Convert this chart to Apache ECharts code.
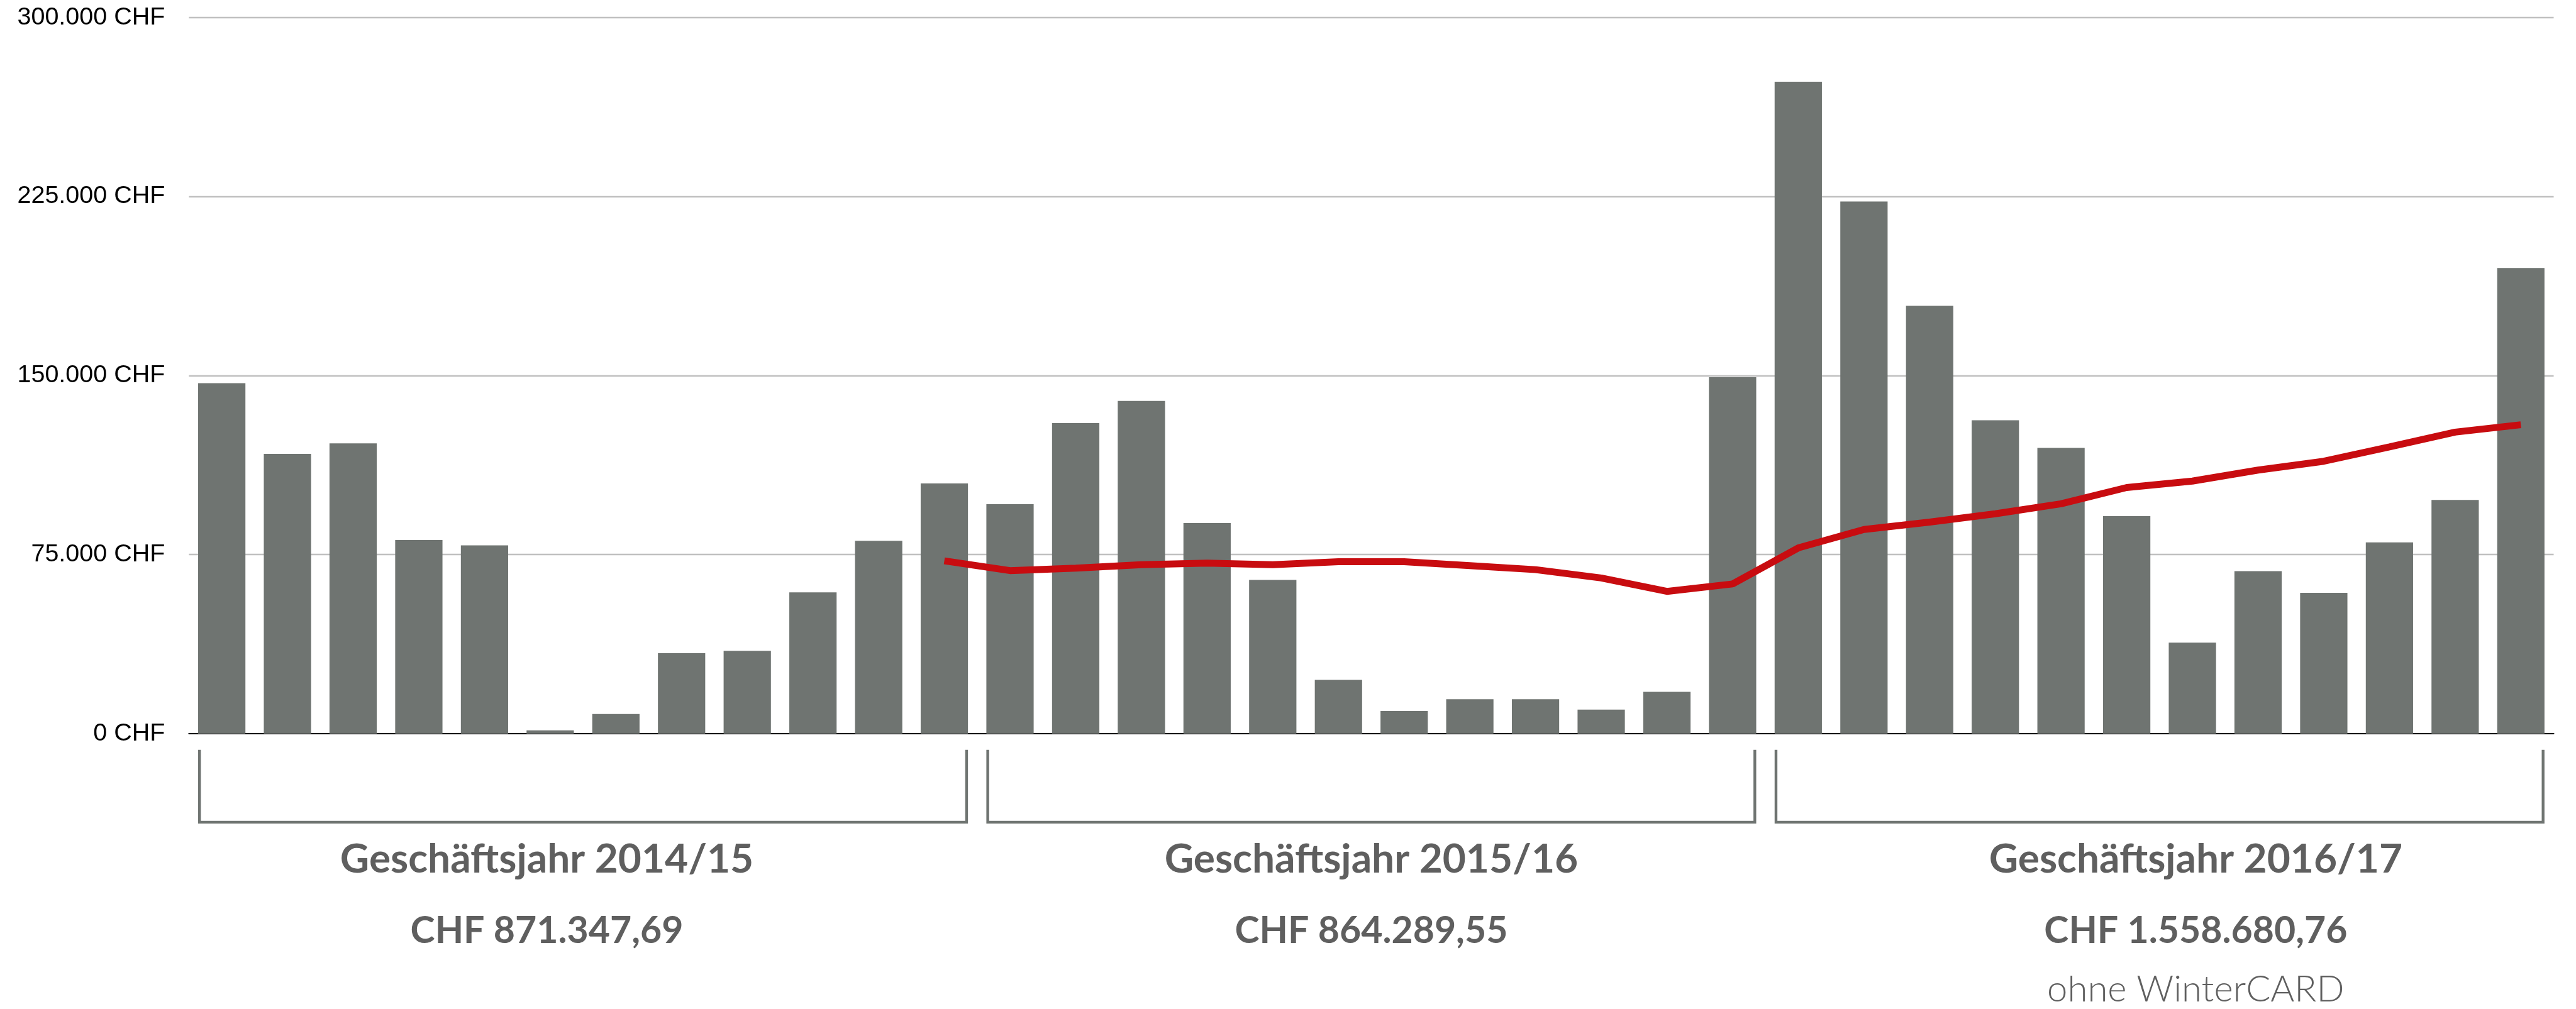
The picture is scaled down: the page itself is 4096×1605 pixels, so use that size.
<!DOCTYPE html>
<html><head><meta charset="utf-8">
<script src="https://cdn.jsdelivr.net/npm/echarts@6/dist/echarts.min.js"></script>
<style>html,body{margin:0;padding:0;background:#fff;overflow:hidden}#c{width:4096px;height:1605px}</style>
</head><body><div id="c"></div>
<script>
// ---- data ----
const fiscalYears = ['Geschäftsjahr 2014/15', 'Geschäftsjahr 2015/16', 'Geschäftsjahr 2016/17'];
const yearTotals = ['CHF 871.347,69', 'CHF 864.289,55', 'CHF 1.558.680,76'];
const yearNotes = ['', '', 'ohne WinterCARD'];
const months = ['M01', 'M02', 'M03', 'M04', 'M05', 'M06', 'M07', 'M08', 'M09', 'M10', 'M11', 'M12'];
const categories = [];
['14/15', '15/16', '16/17'].forEach(function (fy) { months.forEach(function (m) { categories.push(fy + ' ' + m); }); });

const revenue2014 = [146800, 117200, 121600, 81100, 78900, 1400, 8200, 33700, 34700, 59200, 80800, 104800];
const revenue2015 = [96100, 130100, 139400, 88200, 64400, 22500, 9500, 14400, 14400, 10100, 17500, 149300];
const revenue2016 = [273100, 222900, 179200, 131300, 119700, 91100, 38100, 68100, 59000, 80100, 97900, 195100];
// 12-month average line (starts at the 12th month)
const rollingAvg = [null, null, null, null, null, null, null, null, null, null, null,
  72400, 68300, 69300, 70800, 71400, 70800, 72000, 72000, 70400, 68700, 65200, 59600, 62700,
  77800, 85500, 88600, 92100, 96300, 103100, 105800, 110400, 114100, 120100, 126300, 129400];

const yTickValues = [0, 75000, 150000, 225000, 300000];
const yTickLabels = ['0 CHF', '75.000 CHF', '150.000 CHF', '225.000 CHF', '300.000 CHF'];

const barValues = revenue2014.concat(revenue2015, revenue2016);

// ---- chart ----
const S = 0.881;
const chart = echarts.init(document.getElementById('c'), null, { renderer: 'canvas' });
const GAP = 0.28;
const option = {
  animation: false,
  backgroundColor: '#ffffff',
  grid: { left: 300.4, right: 35.5, top: 27.8, bottom: 438, containLabel: false },
  xAxis: {
    type: 'category', data: categories, boundaryGap: true,
    axisLine: { show: true, lineStyle: { color: '#000000', width: 2.2 } },
    axisTick: { show: false }, axisLabel: { show: false }, splitLine: { show: false }
  },
  yAxis: {
    type: 'value', min: 0, max: 300000, interval: 75000,
    axisLine: { show: false }, axisTick: { show: false },
    splitLine: { show: true, lineStyle: { color: '#c0c0c0', width: 2.4 } },
    axisLabel: {
      margin: 38, color: '#000000', fontFamily: '"Liberation Sans", Arial, sans-serif', fontSize: 39.5,
      formatter: function (v) { const i = yTickValues.indexOf(v); return i >= 0 ? yTickLabels[i] : ''; }
    }
  },
  series: [
    { type: 'bar', data: barValues, barCategoryGap: (GAP * 100) + '%', itemStyle: { color: '#6f7471' }, z: 2 },
    { type: 'line', data: rollingAvg, showSymbol: false, symbol: 'none', connectNulls: false,
      lineStyle: { color: '#c80c10', width: 11 }, z: 3 }
  ]
};
chart.setOption(option);

// ---- brackets and year labels ----
function px(i) { return chart.convertToPixel({ xAxisIndex: 0 }, i); }
const catW = px(1) - px(0);
const barW = catW * (1 - GAP);
const lw = 5 * S;
const bTop = 1354 * S, bBot = 1487 * S;
const gridMid = (px(0) + px(categories.length - 1)) / 2;
const textX = [gridMid - 1488 * S, gridMid, gridMid + 1488 * S];
const elements = [];
fiscalYears.forEach(function (label, k) {
  const l = px(12 * k) - barW / 2 + lw / 2;
  const r = px(12 * k + 11) + barW / 2 - lw / 2;
  elements.push({
    type: 'polyline', silent: true,
    shape: { points: [[l, bTop], [l, bBot - lw / 2], [r, bBot - lw / 2], [r, bTop]] },
    style: { stroke: '#6f7471', lineWidth: lw, fill: null, lineJoin: 'miter', lineCap: 'butt' }
  });
  elements.push({
    type: 'text', silent: true, x: textX[k], y: 1575.5 * S + 11,
    style: { text: label, fill: '#5f5f5f', font: 'bold 64px Lato, "Open Sans", sans-serif', textAlign: 'center', textVerticalAlign: 'bottom' }
  });
  elements.push({
    type: 'text', silent: true, x: textX[k], y: 1702 * S + 11,
    style: { text: yearTotals[k], fill: '#5f5f5f', font: 'bold 59px Lato, "Open Sans", sans-serif', textAlign: 'center', textVerticalAlign: 'bottom' }
  });
  if (yearNotes[k]) {
    elements.push({
      type: 'text', silent: true, x: textX[k], y: 1810 * S + 9,
      style: { text: yearNotes[k], fill: '#5f5f5f', font: '300 58px Lato, "Open Sans", sans-serif', textAlign: 'center', textVerticalAlign: 'bottom' }
    });
  }
});
chart.setOption({ graphic: { elements: elements } });
</script>
</body></html>
